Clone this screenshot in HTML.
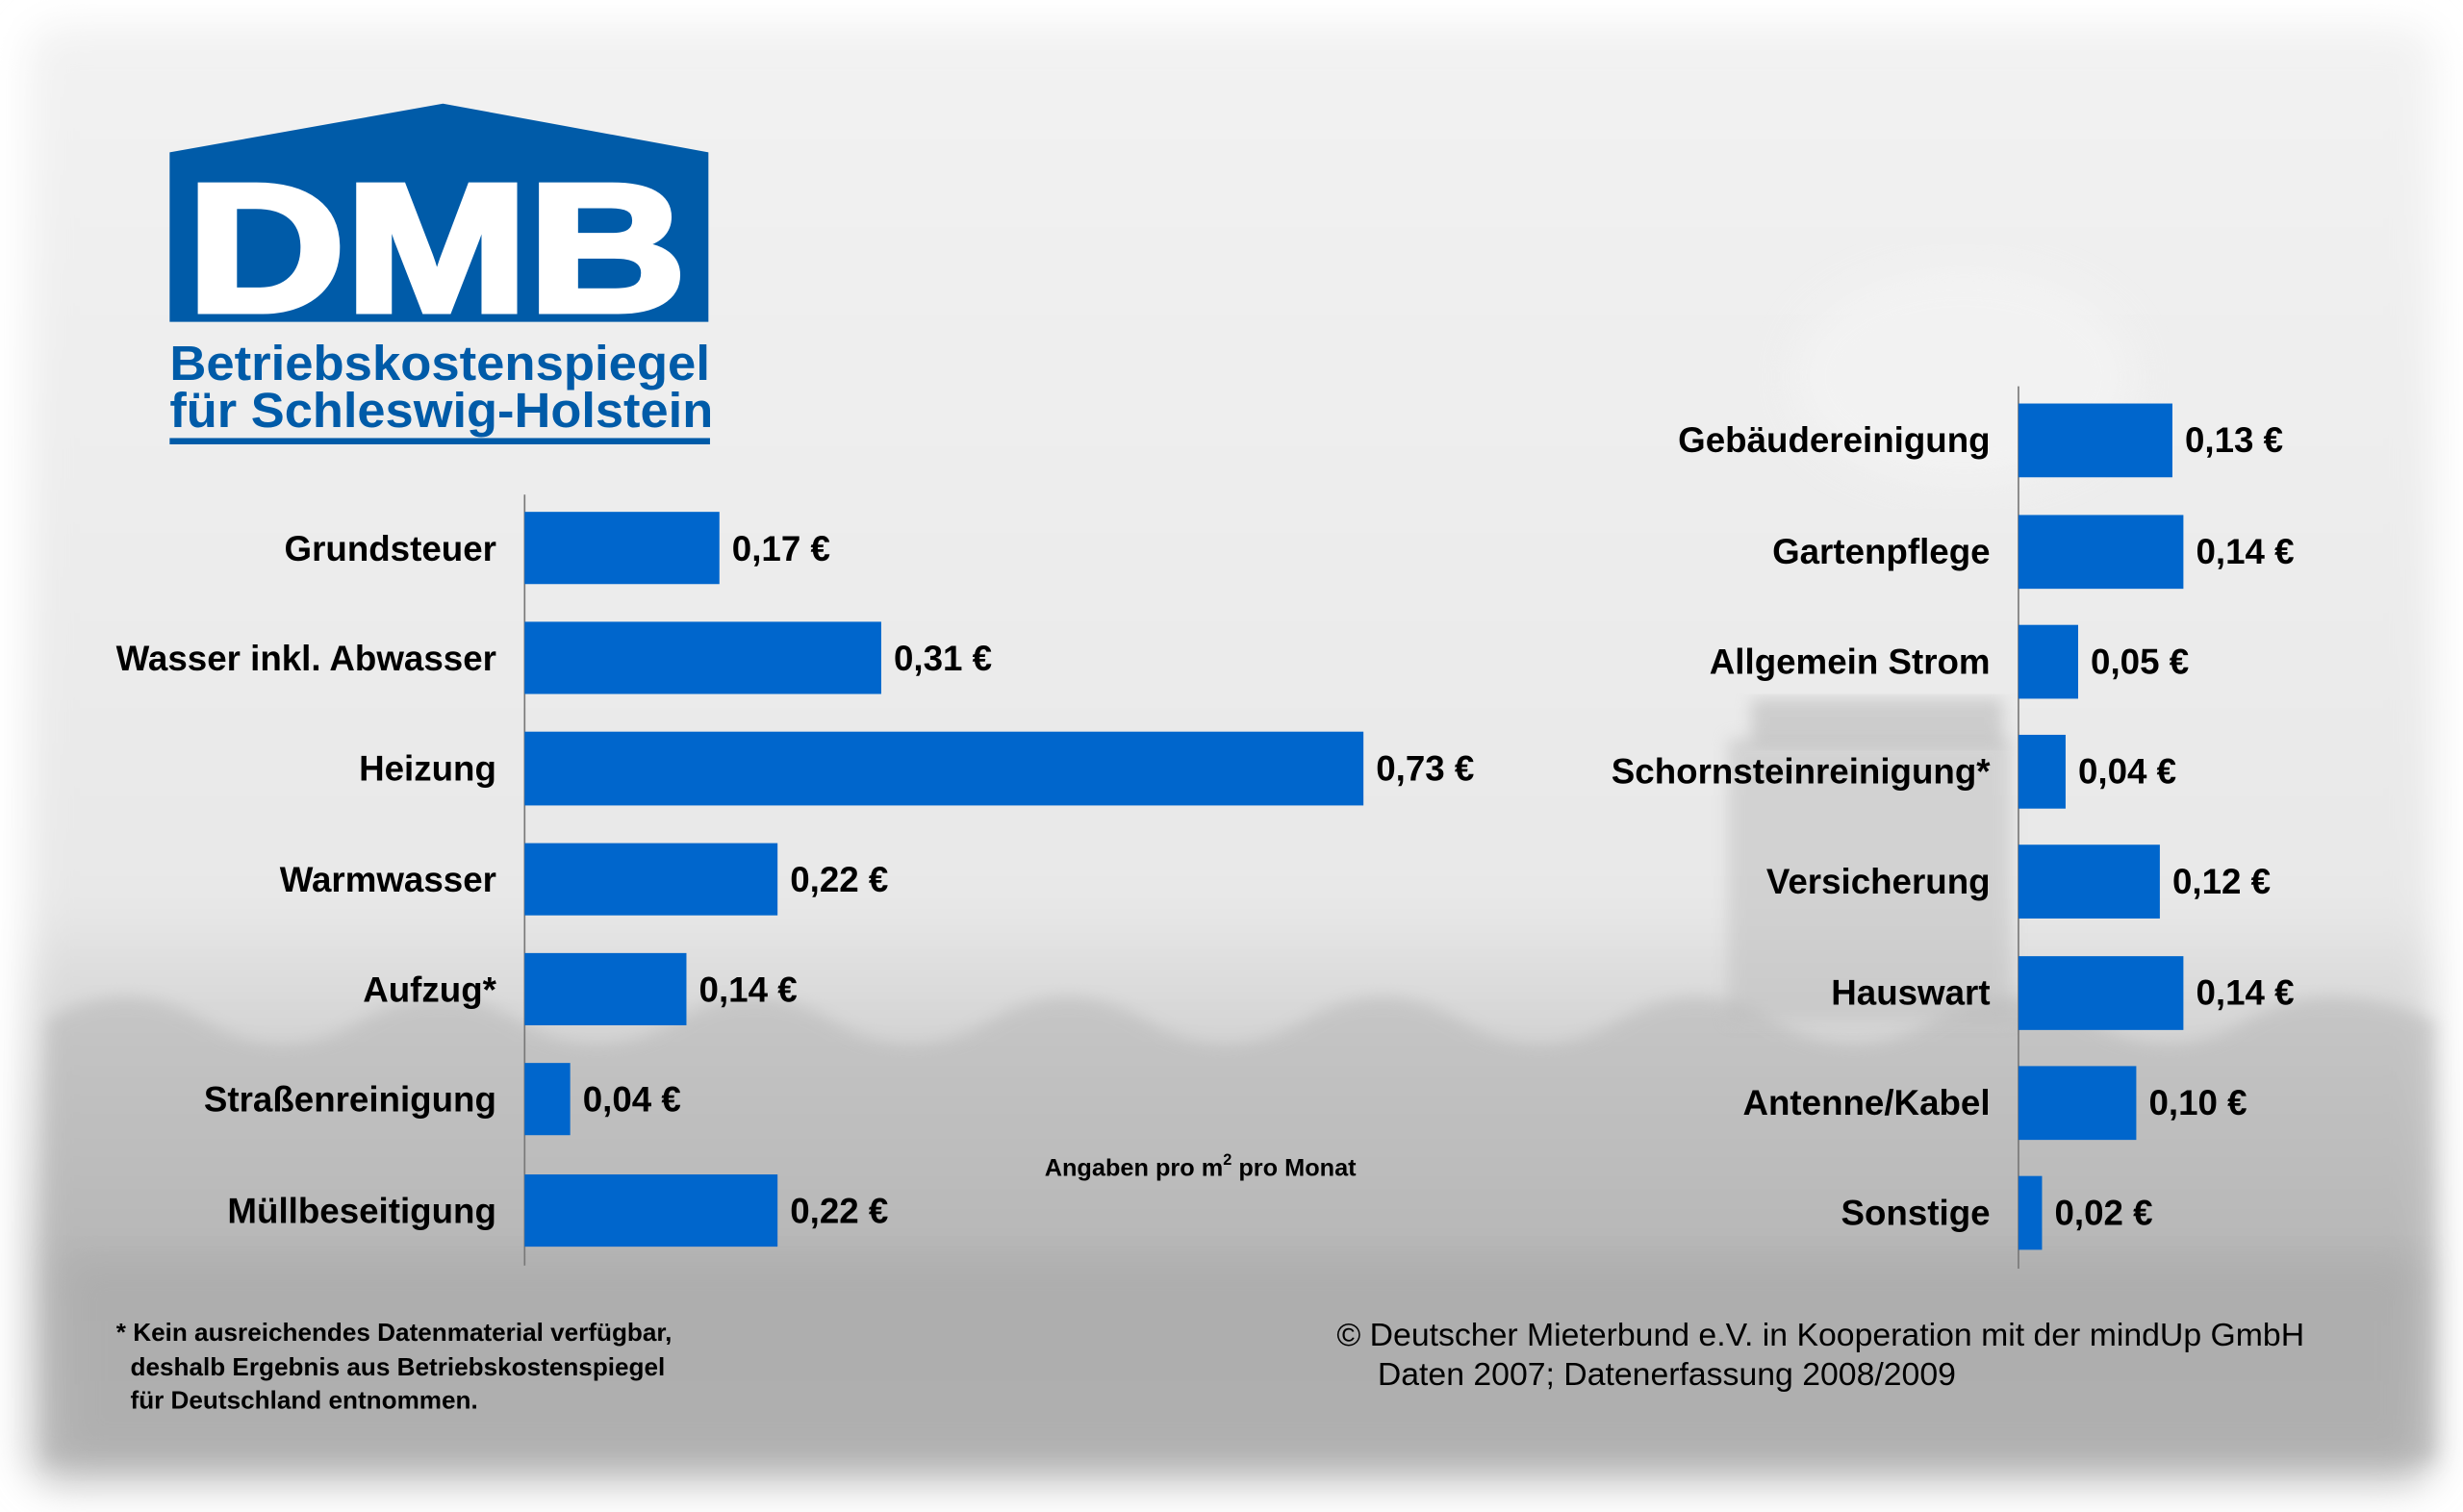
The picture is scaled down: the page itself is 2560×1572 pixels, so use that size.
<!DOCTYPE html>
<html><head><meta charset="utf-8"><style>
html,body{margin:0;padding:0;background:#fff}
svg{display:block}
text{font-family:"Liberation Sans",Arial,sans-serif;font-weight:bold}
</style></head><body>
<svg width="2560" height="1572" viewBox="0 0 1568 963" preserveAspectRatio="none" xmlns="http://www.w3.org/2000/svg">
<defs>
<linearGradient id="bg" x1="0" y1="0" x2="0" y2="1">
<stop offset="0" stop-color="#f2f2f2"/><stop offset="0.6" stop-color="#e8e8e8"/><stop offset="0.7" stop-color="#d2d2d2"/><stop offset="0.85" stop-color="#bdbdbd"/><stop offset="1" stop-color="#c4c4c4"/>
</linearGradient>
<filter id="bl"><feGaussianBlur stdDeviation="12"/></filter>
<filter id="bl2"><feGaussianBlur stdDeviation="5"/></filter>
</defs>
<rect width="1568" height="963" fill="#fff"/>
<rect x="18" y="16" width="1532" height="930" rx="20" fill="url(#bg)" filter="url(#bl)"/>
<path d="M30 650 Q80 620 130 650 T230 650 T330 650 T430 650 T530 650 T630 650 T730 650 T830 650 T930 650 T1030 650 T1130 650 T1230 650 T1330 650 T1430 650 T1550 650 L1550 930 L30 930 Z" fill="#b0b0b0" opacity="0.45" filter="url(#bl2)"/>
<rect x="40" y="800" width="1500" height="130" fill="#9a9a9a" opacity="0.3" filter="url(#bl)"/>
<rect x="1100" y="470" width="180" height="180" fill="#bcbcbc" opacity="0.5" filter="url(#bl2)"/>
<rect x="1115" y="445" width="160" height="30" fill="#b0b0b0" opacity="0.5" filter="url(#bl2)"/>
<ellipse cx="1250" cy="240" rx="110" ry="70" fill="#f4f4f4" opacity="0.7" filter="url(#bl)"/>
<!-- logo -->
<path d="M108 97 L282 66 L451 97 L451 205 L108 205 Z" fill="#005ba8"/>
<text x="119" y="198" font-size="116" fill="#fff" stroke="#fff" stroke-width="4" textLength="318" lengthAdjust="spacingAndGlyphs">DMB</text>
<text x="108" y="242" font-size="31" fill="#005ba8" textLength="344" lengthAdjust="spacingAndGlyphs">Betriebskostenspiegel</text>
<text x="108" y="272" font-size="31" fill="#005ba8" textLength="346" lengthAdjust="spacingAndGlyphs">für Schleswig-Holstein</text>
<rect x="108" y="279" width="344" height="4" fill="#005ba8"/>
<line x1="334" y1="315" x2="334" y2="806" stroke="#777" stroke-width="1"/>
<g font-size="22.5" fill="#000">
<g text-anchor="end">
<text x="316" y="357">Grundsteuer</text>
<text x="316" y="427">Wasser inkl. Abwasser</text>
<text x="316" y="497">Heizung</text>
<text x="316" y="568">Warmwasser</text>
<text x="316" y="638">Aufzug*</text>
<text x="316" y="708">Straßenreinigung</text>
<text x="316" y="779">Müllbeseitigung</text>
</g>
<g fill="#0066cc">
<rect x="334" y="326" width="124" height="46"/>
<rect x="334" y="396" width="227" height="46"/>
<rect x="334" y="466" width="534" height="47"/>
<rect x="334" y="537" width="161" height="46"/>
<rect x="334" y="607" width="103" height="46"/>
<rect x="334" y="677" width="29" height="46"/>
<rect x="334" y="748" width="161" height="46"/>
</g>
<text x="466" y="357">0,17 €</text>
<text x="569" y="427">0,31 €</text>
<text x="876" y="497">0,73 €</text>
<text x="503" y="568">0,22 €</text>
<text x="445" y="638">0,14 €</text>
<text x="371" y="708">0,04 €</text>
<text x="503" y="779">0,22 €</text>
<line x1="1285" y1="246" x2="1285" y2="808" stroke="#777" stroke-width="1"/>
<g text-anchor="end">
<text x="1267" y="288">Gebäudereinigung</text>
<text x="1267" y="359">Gartenpflege</text>
<text x="1267" y="429">Allgemein Strom</text>
<text x="1267" y="499">Schornsteinreinigung*</text>
<text x="1267" y="569">Versicherung</text>
<text x="1267" y="640">Hauswart</text>
<text x="1267" y="710">Antenne/Kabel</text>
<text x="1267" y="780">Sonstige</text>
</g>
<g fill="#0066cc">
<rect x="1285" y="257" width="98" height="47"/>
<rect x="1285" y="328" width="105" height="47"/>
<rect x="1285" y="398" width="38" height="47"/>
<rect x="1285" y="468" width="30" height="47"/>
<rect x="1285" y="538" width="90" height="47"/>
<rect x="1285" y="609" width="105" height="47"/>
<rect x="1285" y="679" width="75" height="47"/>
<rect x="1285" y="749" width="15" height="47"/>
</g>
<text x="1391" y="288">0,13 €</text>
<text x="1398" y="359">0,14 €</text>
<text x="1331" y="429">0,05 €</text>
<text x="1323" y="499">0,04 €</text>
<text x="1383" y="569">0,12 €</text>
<text x="1398" y="640">0,14 €</text>
<text x="1368" y="710">0,10 €</text>
<text x="1308" y="780">0,02 €</text>
</g>
<text x="665" y="749" font-size="15.5">Angaben pro m<tspan font-size="10" dy="-7">2</tspan><tspan dy="7"> pro Monat</tspan></text>
<g font-size="16">
<text x="74" y="854">* Kein ausreichendes Datenmaterial verfügbar,</text>
<text x="83" y="876">deshalb Ergebnis aus Betriebskostenspiegel</text>
<text x="83" y="897">für Deutschland entnommen.</text>
</g>
<g font-size="20.7">
<text x="851" y="857" style="font-weight:normal">©  Deutscher Mieterbund e.V. in Kooperation mit der mindUp GmbH</text>
<text x="877" y="882" style="font-weight:normal">Daten 2007; Datenerfassung 2008/2009</text>
</g>
</svg>
</body></html>
